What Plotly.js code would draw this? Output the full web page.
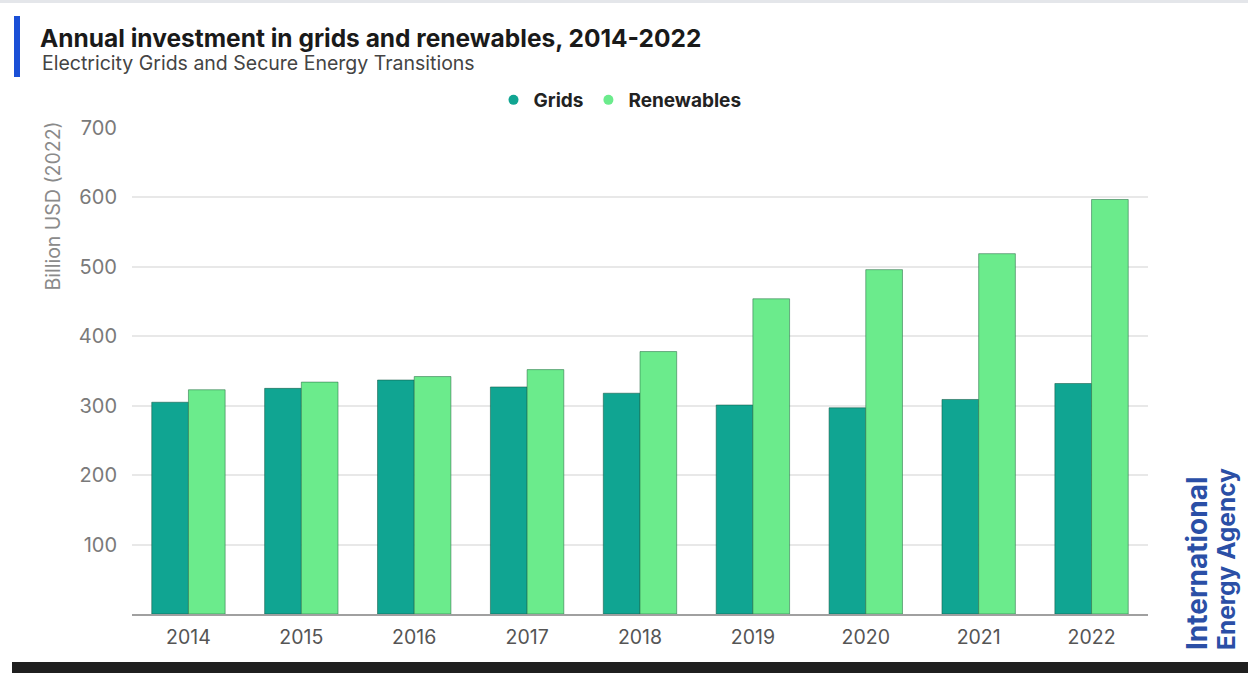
<!DOCTYPE html>
<html>
<head>
<meta charset="utf-8">
<script src="https://cdn.plot.ly/plotly-3.0.1.min.js"></script>
<style>
html,body{margin:0;padding:0;background:#fff;}
#chart{width:1248px;height:673px;}
</style>
</head>
<body>
<div id="chart"></div>
<script>
const years = ['2014','2015','2016','2017','2018','2019','2020','2021','2022'];
const grids = [305, 325, 337, 327, 318, 301, 297, 309, 332];
const renewables = [323, 334, 342, 352, 378, 454, 496, 519, 597];
const yTicks = [100, 200, 300, 400, 500, 600, 700];

const gridColor = '#10a592';
const renewColor = '#6beb8c';

const L = 132, R = 1148, T = 128, B = 614, W = 1248, H = 673;
const px = x => (x - L) / (R - L);
const py = y => (B - y) / (B - T);

const traces = [
  {type:'bar', name:'Grids', x: years, y: grids, marker:{color:gridColor, line:{color:'rgba(20,90,70,0.55)', width:1}}, showlegend:false, hoverinfo:'y'},
  {type:'bar', name:'Renewables', x: years, y: renewables, marker:{color:renewColor, line:{color:'rgba(40,110,70,0.55)', width:1}}, showlegend:false, hoverinfo:'y'},
  {type:'scatter', mode:'markers', name:'Grids', x:[null], y:[null], marker:{color:gridColor, size:10, symbol:'circle'}},
  {type:'scatter', mode:'markers', name:'Renewables', x:[null], y:[null], marker:{color:renewColor, size:10, symbol:'circle'}}
];

const layout = {
  width: W, height: H,
  margin: {l: L, r: W - R, t: T, b: H - B, pad: 0},
  paper_bgcolor: '#ffffff',
  plot_bgcolor: '#ffffff',
  font: {family: 'Inter, "Open Sans", sans-serif', color: '#444'},
  title: {
    text: '<b>Annual investment in grids and renewables, 2014-2022</b>',
    x: 40 / W, xref: 'container', xanchor: 'left',
    y: 1 - 38 / H, yref: 'container', yanchor: 'middle',
    font: {size: 24.5, color: '#1a1a1a', family: 'Inter, sans-serif'}
  },
  barmode: 'group',
  bargap: 0.35,
  bargroupgap: 0,
  xaxis: {
    type: 'category',
    showgrid: false,
    showline: true, linecolor: '#a0a0a0', linewidth: 2,
    ticks: '',
    ticklabelstandoff: 5,
    tickfont: {size: 19.5, color: '#555'},
    fixedrange: true
  },
  yaxis: {
    range: [0, 700],
    tickvals: yTicks,
    showgrid: true, gridcolor: '#e8e8e8', gridwidth: 1.5,
    zeroline: false,
    showline: false,
    ticks: '',
    ticklabelstandoff: 14,
    tickfont: {size: 20, color: '#7a7a7a'},
    fixedrange: true
  },
  legend: {
    orientation: 'h',
    x: px(620), xanchor: 'center',
    y: py(100), yanchor: 'middle',
    font: {size: 19, color: '#222', family: 'Inter, sans-serif', weight: 'bold'},
    itemwidth: 30,
    bgcolor: 'rgba(0,0,0,0)'
  },
  shapes: [
    {type:'rect', xref:'paper', yref:'paper', x0: px(14), x1: px(20), y0: py(77), y1: py(16), fillcolor:'#1a4fd6', line:{width:0}},
    {type:'rect', xref:'paper', yref:'paper', x0: px(12), x1: px(1248), y0: py(673), y1: py(662), fillcolor:'#1f1f1f', line:{width:0}},
    {type:'rect', xref:'paper', yref:'paper', x0: px(0), x1: px(1248), y0: py(3), y1: py(0), fillcolor:'#e4e6ea', line:{width:0}}
  ],
  annotations: [
    {text:'Electricity Grids and Secure Energy Transitions', xref:'paper', yref:'paper', x: px(40), y: py(63), xanchor:'left', yanchor:'middle', showarrow:false, font:{size:19.5, color:'#444'}},
    {text:'Billion USD (2022)', xref:'paper', yref:'paper', x: px(52), y: py(120), xanchor:'center', yanchor:'top', textangle:-90, showarrow:false, font:{size:19.5, color:'#8a8a8a'}},
    {text:'<b>International</b>', xref:'paper', yref:'paper', x: px(1197), y: py(652), xanchor:'center', yanchor:'bottom', textangle:-90, showarrow:false, font:{size:28, color:'#2b4fa6', family:'Inter, sans-serif'}},
    {text:'<b>Energy Agency</b>', xref:'paper', yref:'paper', x: px(1226), y: py(652), xanchor:'center', yanchor:'bottom', textangle:-90, showarrow:false, font:{size:24.5, color:'#2b4fa6', family:'Inter, sans-serif'}}
  ]
};

Plotly.newPlot('chart', traces, layout, {displayModeBar:false});
</script>
</body>
</html>
